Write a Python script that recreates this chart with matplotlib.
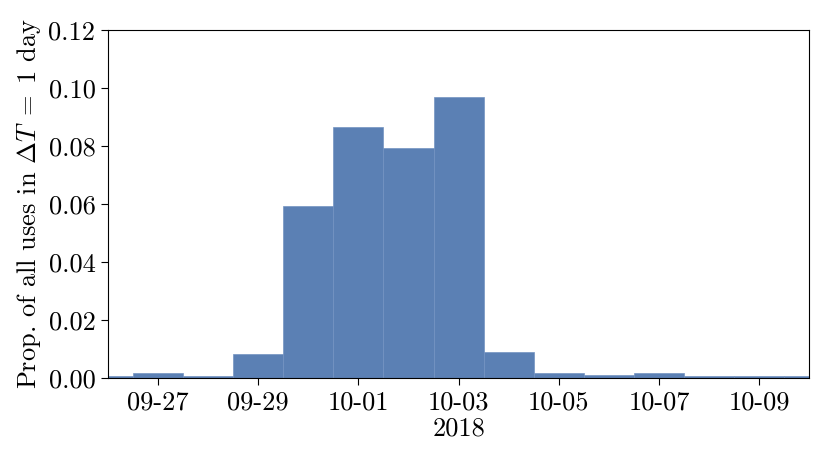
import numpy as np
import pandas as pd
import matplotlib
matplotlib.use('Agg')
import matplotlib.pyplot as plt
import matplotlib.dates as mdates

# daily bins (left edges at noon) and share of all uses per bin
bin_start = pd.date_range('2018-09-25 12:00', periods=15, freq='D')
props = [0.0008, 0.0016, 0.0008, 0.0083, 0.0593, 0.0866, 0.0793,
         0.0969, 0.0090, 0.0018, 0.0010, 0.0018, 0.0006, 0.0006, 0.0007]

plt.rcParams['font.family'] = 'serif'
plt.rcParams['font.serif'] = ['cmr10']
plt.rcParams['mathtext.fontset'] = 'cm'
plt.rcParams['axes.formatter.use_mathtext'] = True
plt.rcParams['font.size'] = 19

fig = plt.figure(figsize=(8.3, 4.66), dpi=100)
ax = fig.add_axes([0.130, 0.189, 0.845, 0.747])

ax.bar(bin_start, props, width=1.0, align='edge',
       color='#5b80b4', edgecolor='#7393c2', linewidth=0.5)

ax.set_xlim(pd.Timestamp('2018-09-26'), pd.Timestamp('2018-10-10'))
ax.set_ylim(0, 0.12)
ax.set_yticks(np.arange(0, 0.121, 0.02))
ax.yaxis.set_major_formatter(plt.FormatStrFormatter('%.2f'))
ax.xaxis.set_major_locator(mdates.DayLocator(bymonthday=[27, 29, 1, 3, 5, 7, 9]))
ax.xaxis.set_major_formatter(mdates.DateFormatter('%m-%d'))
ax.tick_params(length=5, width=0.8, pad=4)
ax.set_xlabel('2018', labelpad=2)
ax.set_ylabel(r'Prop. of all uses in $\Delta T\;=\;1$ day', labelpad=4)

plt.savefig('out.png')
